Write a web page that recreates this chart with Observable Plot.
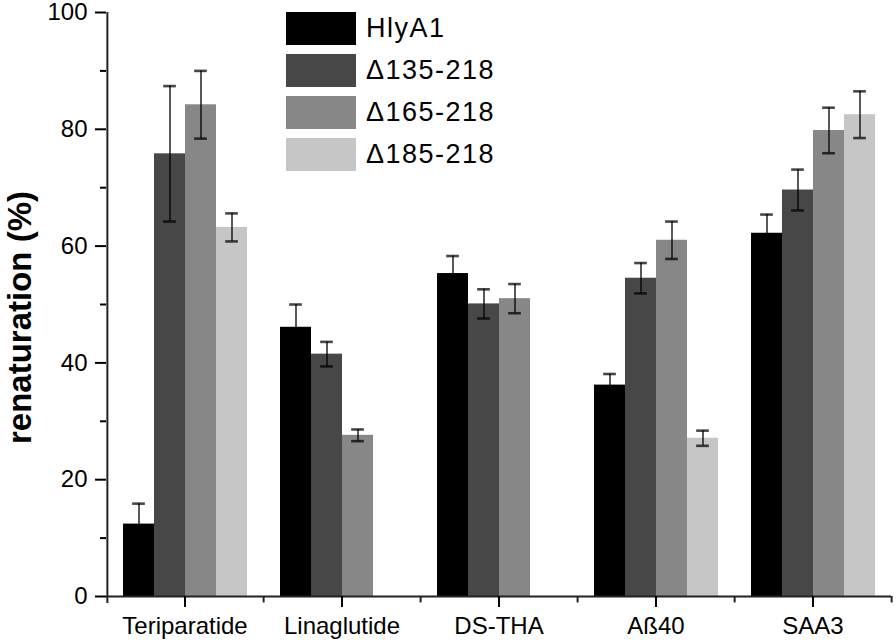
<!DOCTYPE html>
<html><head><meta charset="utf-8">
<script src="https://cdn.jsdelivr.net/npm/d3@7"></script>
<script src="https://cdn.jsdelivr.net/npm/@observablehq/plot@0.6"></script>
<style>
body{margin:0;background:#fff;}
#wrap{position:relative;width:896px;height:644px;font-family:"Liberation Sans",Arial,Helvetica,sans-serif;}
#wrap svg{position:absolute;left:0;top:0;}
#legend{position:absolute;left:286px;top:12px;}
.item{display:flex;align-items:center;height:33px;margin-bottom:9px;}
.sw{width:70px;height:33px;margin-right:10px;}
.lab{font-size:27px;letter-spacing:1.5px;color:#000;}
</style></head><body><div id="wrap"><div id="legend"></div></div>
<script>
const categories = ["Teriparatide", "Linaglutide", "DS-THA", "Aß40", "SAA3"];
const series = ["HlyA1", "Δ135-218", "Δ165-218", "Δ185-218"];
const colors = ["#000000", "#474747", "#878787", "#c6c6c6"];

const valHlyA1 = [12.4, 46.1, 55.3, 36.2, 62.2];
const val135 = [75.8, 41.5, 50.1, 54.5, 69.6];
const val165 = [84.2, 27.6, 51.0, 61.0, 79.8];
const val185 = [63.2, null, null, 27.1, 82.5];

const errHlyA1 = [3.5, 3.9, 3.0, 1.9, 3.2];
const err135 = [11.6, 2.1, 2.5, 2.6, 3.5];
const err165 = [5.8, 1.0, 2.5, 3.2, 3.9];
const err185 = [2.4, null, null, 1.3, 4.0];

const yTicks = [0, 20, 40, 60, 80, 100];
const yMinorTicks = [10, 30, 50, 70, 90];
const yTitle = "renaturation (%)";

const values = [valHlyA1, val135, val165, val185];
const errors = [errHlyA1, err135, err165, err185];
const data = [];
series.forEach((s, i) => categories.forEach((c, j) => {
  if (values[i][j] != null) data.push({category: c, series: s, value: values[i][j], err: errors[i][j]});
}));

const W = 896, H = 644, ml = 105, mr = 5, mt = 12, mb = 48;
const po = 0.51;
const bw = (W - ml - mr) / categories.length / (series.length + 2 * po);
const edge = (po + 0.5) * bw;
const capInset = (bw - 13) / 2;
const font = '"Liberation Sans", Arial, Helvetica, sans-serif';
const errStyle = {stroke: "#000", strokeOpacity: 0.72};

const chart = Plot.plot({
  width: W, height: H,
  marginLeft: ml, marginRight: mr, marginTop: mt, marginBottom: mb,
  style: {fontFamily: font, color: "#000", background: "transparent"},
  fx: {domain: categories, padding: 0},
  x: {domain: series, paddingInner: 0, paddingOuter: po, axis: null},
  y: {domain: [0, 100]},
  color: {domain: series, range: colors},
  marks: [
    Plot.barY(data, {fx: "category", x: "series", y: "value", fill: "series"}),
    Plot.ruleX(data, {fx: "category", x: "series", y1: d => d.value - d.err, y2: d => d.value + d.err, ...errStyle, strokeWidth: 1.8}),
    Plot.tickY(data, {fx: "category", x: "series", y: d => d.value + d.err, ...errStyle, strokeWidth: 2.6, insetLeft: capInset, insetRight: capInset}),
    Plot.tickY(data, {fx: "category", x: "series", y: d => d.value - d.err, ...errStyle, strokeWidth: 2.6, insetLeft: capInset, insetRight: capInset}),
    Plot.ruleY([0], {stroke: "#222", strokeWidth: 2}),
    Plot.ruleX([categories[0]], {fx: d => d, x: () => series[0], dx: -edge, y1: -1.2, y2: 100, stroke: "#222", strokeWidth: 2}),
    Plot.ruleX(categories, {fx: d => d, x: () => series[series.length - 1], dx: edge, y1: 0, y2: -1.1, stroke: "#222", strokeWidth: 2}),
    Plot.axisY({ticks: yTicks, tickSize: 11, tickPadding: 8, fontSize: 24, label: null, strokeWidth: 2}),
    Plot.axisY({ticks: yMinorTicks, tickSize: 6, text: null, label: null, strokeWidth: 2}),
    Plot.axisFx({anchor: "bottom", tickSize: 11, tickPadding: 9, fontSize: 24, label: null, strokeWidth: 2}),
    Plot.text([categories[0]], {fx: d => d, frameAnchor: "left", textAnchor: "middle", text: () => yTitle, rotate: -90, dx: -86, dy: 13, fontSize: 33, fontWeight: "bold", fill: "#000"})
  ]
});
document.getElementById("wrap").prepend(chart);

const legend = document.getElementById("legend");
series.forEach((s, i) => {
  const item = document.createElement("div");
  item.className = "item";
  const sw = document.createElement("div");
  sw.className = "sw";
  sw.style.background = colors[i];
  const lab = document.createElement("span");
  lab.className = "lab";
  lab.textContent = s;
  item.append(sw, lab);
  legend.append(item);
});
</script></body></html>
